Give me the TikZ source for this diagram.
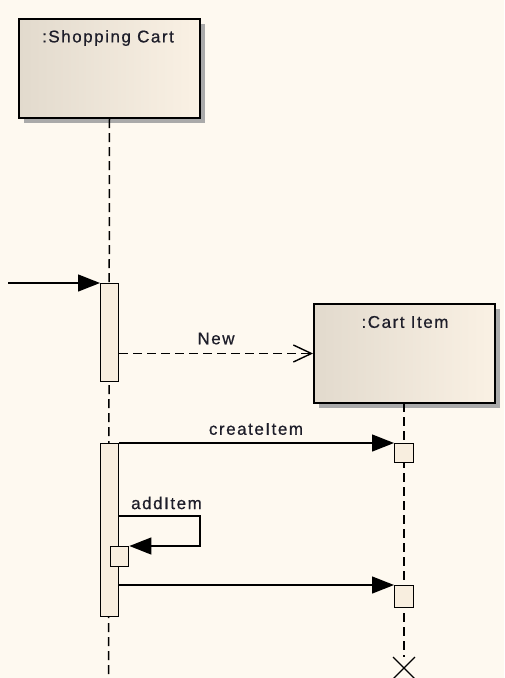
\documentclass[tikz,border=0pt]{standalone}
\usepackage{fontspec}
\setmainfont{Liberation Sans}[LetterSpace=9,FakeBold=0.6]
\usetikzlibrary{arrows.meta,shadows}
\definecolor{bg}{HTML}{FEF9F0}
\definecolor{boxL}{HTML}{E2DACD}
\definecolor{boxR}{HTML}{FAF1E4}
\definecolor{actfill}{HTML}{F8EEDF}
\definecolor{shadowc}{HTML}{AAAAAA}
\definecolor{txt}{HTML}{1E1E2A}
\begin{document}
\begin{tikzpicture}[x=1pt,y=-1pt,
  objbox/.style={draw=black, line width=2pt, left color=boxL, right color=boxR,
    minimum width=181pt, minimum height=99pt, anchor=north west, inner sep=0pt,
    drop shadow={shadow xshift=5pt, shadow yshift=-5pt, fill=shadowc, opacity=1}},
  actbar/.style={draw=black, line width=1.4pt, fill=actfill, anchor=north west, inner sep=0pt},
  lbl/.style={text=txt, font=\fontsize{17}{20}\selectfont, inner sep=0pt},
  lifeline/.style={line width=1.5pt, dash pattern=on 9pt off 5pt},
  msg/.style={line width=1.4pt, -{Triangle[length=22pt,width=17pt]}},
  createmsg/.style={line width=1.4pt, dash pattern=on 9pt off 5pt, -{Straight Barb[length=18pt,width=17pt]}},
]
\fill[bg] (0,0) rectangle (504,678);
\useasboundingbox (0,0) rectangle (504,678);

% objects
\node[objbox] (sc) at (18,18) {};
\node[lbl] (sct) at (108,38) {:Shopping Cart};
\node[objbox] (ci) at (313,303) {};
\node[lbl] (cit) at (405,322) {:Cart Item};

% lifelines
\coordinate (scend) at (108.5,678);
\coordinate (ciend) at (404,657);
\draw[lifeline] (sc.south) -- (scend);
\draw[lifeline] (404,403) -- (ciend);

% activations
\node[actbar, minimum width=18pt, minimum height=98pt] (a1) at (100,283) {};
\node[actbar, minimum width=18pt, minimum height=173pt] (a2) at (100,443) {};
\node[actbar, minimum width=18pt, minimum height=20pt] (a3) at (110,546) {};
\node[actbar, minimum width=19pt, minimum height=19pt] (b1) at (394,443) {};
\node[actbar, minimum width=19pt, minimum height=22pt] (b2) at (394,585) {};

% destruction
\draw[line width=1.2pt] (393,657) -- (415,679) (415,657) -- (393,679);

% messages
\coordinate (in) at (8,283);
\draw[msg] (in) -- (a1.north west);

\draw[createmsg] (a1.east |- ci.west) -- (ci.west);
\node[lbl] (newl) at (216,338.5) {New};

\draw[msg] (a2.north east) -- (b1.north west);
\node[lbl] (cil) at (256,429) {createItem};

\coordinate (ai) at (118,516);
\draw[msg] (ai) -- (200,516) |- (a3.north east);
\node[lbl] (ail) at (166.5,503) {addItem};

\draw[msg] (a2.east |- b2.north west) -- (b2.north west);
\end{tikzpicture}
\end{document}
